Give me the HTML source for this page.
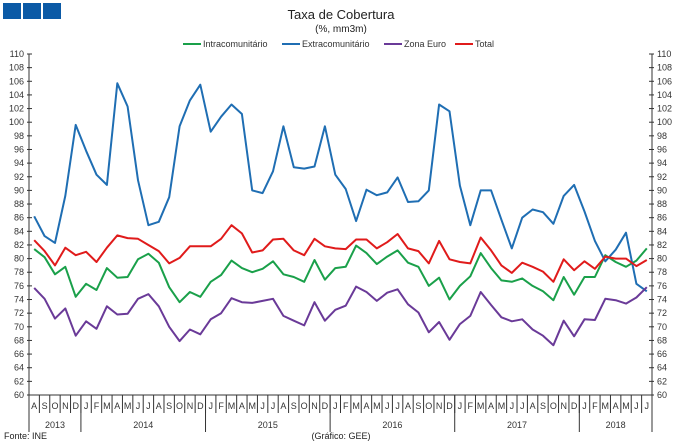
<!DOCTYPE html>
<html><head><meta charset="utf-8"><style>
body{margin:0;background:#fff;}
svg{display:block;font-family:"Liberation Sans",sans-serif;}
</style></head><body>
<svg id="chart" width="680" height="446">
<g>
<rect x="3" y="3" width="18" height="16" fill="#0b5aa6"/><rect x="23" y="3" width="18" height="16" fill="#0b5aa6"/><rect x="43" y="3" width="18" height="16" fill="#0b5aa6"/>
</g>
<text x="341" y="19" font-size="13" text-anchor="middle" fill="#222">Taxa de Cobertura</text>
<text x="341" y="32" font-size="10" text-anchor="middle" fill="#222">(%, mm3m)</text>
<g id="legend"></g>
<g id="axes"></g>
<g id="series"></g>
<text x="4" y="439" font-size="9" fill="#222">Fonte: INE</text>
<text x="341" y="439" font-size="9" fill="#222" text-anchor="middle">(Gráfico: GEE)</text>
</svg>
<script>
const months=["A","S","O","N","D","J","F","M","A","M","J","J","A","S","O","N","D","J","F","M","A","M","J","J","A","S","O","N","D","J","F","M","A","M","J","J","A","S","O","N","D","J","F","M","A","M","J","J","A","S","O","N","D","J","F","M","A","M","J","J"];
const years=["2013","2014","2015","2016","2017","2018"];
const yearCounts=[5,12,12,12,12,7];
const yTicks=[60,62,64,66,68,70,72,74,76,78,80,82,84,86,88,90,92,94,96,98,100,102,104,106,108,110];
const seriesNames=["Intracomunitário","Extracomunitário","Zona Euro","Total"];
const intra=[81.4,80.2,77.7,78.8,74.4,76.3,75.4,78.6,77.2,77.3,79.9,80.7,79.4,75.8,73.6,75.1,74.4,76.6,77.6,79.7,78.6,78.0,78.5,79.6,77.7,77.3,76.6,79.8,76.9,78.6,78.8,81.9,80.8,79.2,80.3,81.2,79.4,78.8,76.0,77.2,74.0,76.0,77.4,80.8,78.6,76.8,76.6,77.1,76.0,75.2,73.9,77.3,74.7,77.3,77.3,80.5,79.5,78.8,79.7,81.5];
const extra=[86.2,83.3,82.3,89.2,99.6,95.8,92.3,90.8,105.7,102.3,91.5,84.9,85.4,89.0,99.4,103.2,105.5,98.6,100.8,102.6,101.2,90.0,89.6,92.8,99.4,93.4,93.2,93.5,99.4,92.3,90.2,85.5,90.1,89.3,89.7,91.9,88.3,88.4,90.0,102.6,101.6,90.7,84.9,90.0,90.0,85.7,81.5,86.0,87.2,86.8,85.1,89.2,90.8,86.9,82.6,79.6,81.3,83.8,76.3,75.2];
const euro=[75.7,74.1,71.2,72.7,68.7,70.8,69.7,73.0,71.8,71.9,74.1,74.8,73.0,70.0,67.9,69.6,68.9,71.1,72.0,74.2,73.6,73.5,73.8,74.1,71.6,70.9,70.2,73.6,70.9,72.5,73.1,75.9,75.1,73.8,75.0,75.5,73.3,72.1,69.2,70.7,68.1,70.4,71.6,75.1,73.2,71.4,70.8,71.1,69.6,68.7,67.3,70.9,68.6,71.1,71.0,74.1,73.9,73.4,74.3,75.8];
const total=[82.7,81.1,79.0,81.6,80.5,81.0,79.5,81.6,83.4,83.0,82.9,82.0,81.1,79.3,80.1,81.8,81.8,81.8,82.9,84.9,83.7,80.9,81.2,82.8,82.9,81.2,80.5,82.9,81.8,81.5,81.4,82.8,82.8,81.5,82.4,83.6,81.5,81.1,79.3,82.6,79.9,79.5,79.3,83.1,81.2,79.0,77.9,79.4,78.8,78.1,76.6,79.9,78.3,79.6,78.5,80.3,80.0,80.0,78.9,79.8];
const colors=["#1aa04a","#1f6eb3","#6a3a98","#e01b1b"];
const NS="http://www.w3.org/2000/svg";
const L=29,R=652,T=54,B=395,yMin=60,yMax=110;
const step=(R-L)/months.length;
const xs=i=>L+step*(i+0.5);
const ys=v=>B-(v-yMin)/(yMax-yMin)*(B-T);
function mk(tag,attrs,parent){const e=document.createElementNS(NS,tag);for(const k in attrs)e.setAttribute(k,attrs[k]);parent.appendChild(e);return e;}
const ax=document.getElementById('axes');
const lineA={stroke:"#333","stroke-width":1};
let e;
e=mk('line',Object.assign({x1:L,y1:T,x2:L,y2:B},lineA),ax);


e=mk('line',Object.assign({x1:R,y1:T,x2:R,y2:B},lineA),ax);


e=mk('line',Object.assign({x1:L,y1:B,x2:R,y2:B},lineA),ax);


yTicks.forEach(v=>{
 const y=ys(v);
 mk('line',Object.assign({x1:L-2,y1:y,x2:L+3,y2:y},lineA),ax);
 mk('line',Object.assign({x1:R-3,y1:y,x2:R+2,y2:y},lineA),ax);
 e=mk('text',{x:24,y:y+3,"font-size":9,"text-anchor":"end",fill:"#333"},ax);e.textContent=v;
 
 
 e=mk('text',{x:657,y:y+3,"font-size":9,fill:"#333"},ax);e.textContent=v;
 
 
});
months.forEach((m,i)=>{
 const x0=L+step*i;
 mk('line',Object.assign({x1:x0,y1:B,x2:x0,y2:413},lineA),ax);
 e=mk('text',{x:xs(i),y:409,"font-size":9,"text-anchor":"middle",fill:"#333"},ax);e.textContent=m;
 
 
});
let acc=0;
mk('line',Object.assign({x1:L,y1:B,x2:L,y2:432},lineA),ax);
years.forEach((yr,k)=>{
 const s=acc;acc+=yearCounts[k];
 const xe=L+step*acc;
 mk('line',Object.assign({x1:xe,y1:B,x2:xe,y2:432},lineA),ax);
 e=mk('text',{x:L+step*(s+acc)/2,y:428,"font-size":9,"text-anchor":"middle",fill:"#333"},ax);e.textContent=yr;
 
 
});
const sg=document.getElementById('series');
[intra,extra,euro,total].forEach((arr,k)=>{
 const p=mk('polyline',{points:arr.map((v,i)=>xs(i).toFixed(1)+","+ys(v).toFixed(1)).join(" "),fill:"none",stroke:colors[k],"stroke-width":2,"stroke-linejoin":"round"},sg);
 
 
});
const lg=document.getElementById('legend');
const lx=[183,282,384,455];
seriesNames.forEach((n,k)=>{
 const g=mk('g',{},lg);
 
 
 mk('line',{x1:lx[k],y1:44,x2:lx[k]+18,y2:44,stroke:colors[k],"stroke-width":2},g);
 const t=mk('text',{x:lx[k]+20,y:47,"font-size":9,fill:"#333"},g);t.textContent=n;
});
</script>
</body></html>
